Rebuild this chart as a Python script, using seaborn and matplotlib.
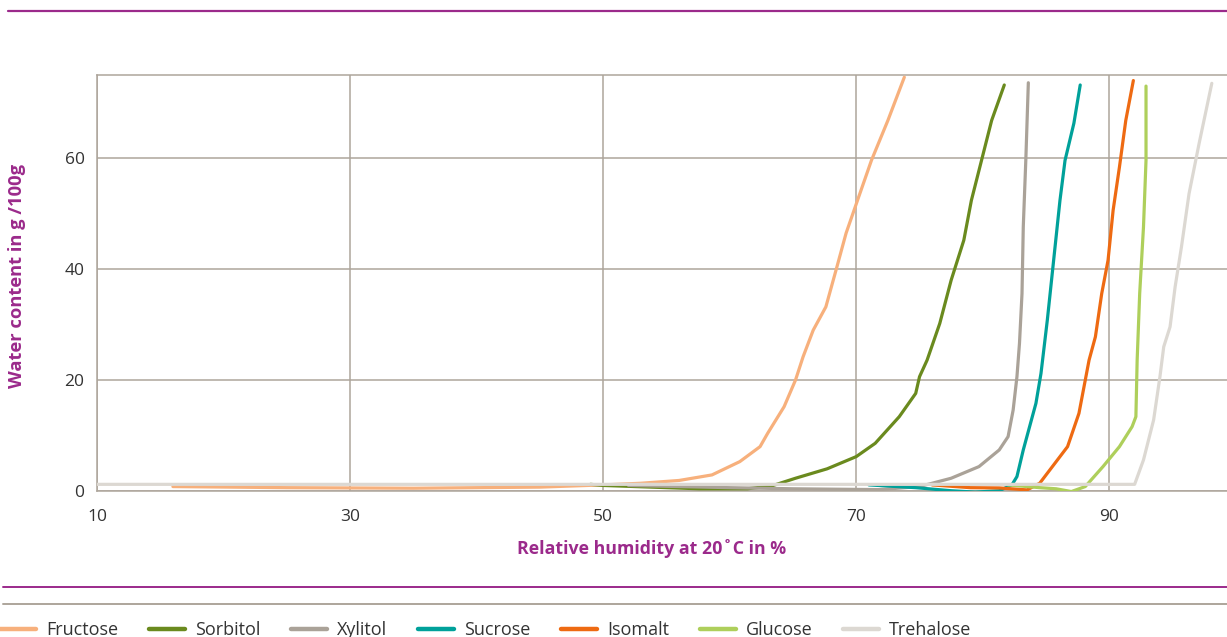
import pandas as pd
import matplotlib.pyplot as plt
import seaborn as sns
from matplotlib.lines import Line2D

# データ
fructose_x = [16, 25, 35, 45, 50, 53, 56, 58.6, 60.8, 62.4, 63.0, 64.3, 65.2, 65.8, 66.6, 67.6, 68.4, 69.2, 70.1, 71.2, 72.5, 73.8]
fructose_y = [0.8, 0.6, 0.5, 0.7, 1.1, 1.4, 1.9, 2.9, 5.3, 8.0, 10.4, 15.2, 20, 24.2, 29, 33.2, 39.8, 46.5, 52.4, 59.6, 66.8, 74.6]

sorbitol_x = [49, 50, 53.8, 57.6, 61.4, 63.3, 65.2, 67.7, 70, 71.5, 73.4, 74.7, 75, 75.6, 76.6, 77.5, 78.5, 79.1, 79.9, 80.7, 81.7]
sorbitol_y = [1.2, 1.0, 0.7, 0.4, 0.4, 0.9, 2.3, 4.0, 6.2, 8.6, 13.4, 17.6, 20.6, 23.6, 30.2, 38, 45.2, 52.4, 59.6, 66.8, 73.2]

xylitol_x = [52, 60, 65, 71.8, 75, 77.5, 79.7, 81.3, 82, 82.4, 82.7, 82.9, 83.1, 83.2, 83.4, 83.6]
xylitol_y = [1.0, 0.6, 0.4, 0.25, 0.8, 2.3, 4.4, 7.4, 9.8, 14.6, 20.6, 26.6, 35.6, 47.6, 59.6, 73.6]

sucrose_x = [71, 74.7, 77.5, 79.4, 81.3, 82.3, 82.7, 83.2, 83.7, 84.2, 84.6, 85.1, 85.6, 86.1, 86.5, 87.2, 87.7]
sucrose_y = [1.1, 0.6, 0.05, -0.2, 0.05, 1.1, 2.6, 7.4, 11.6, 15.8, 21.2, 30.8, 41.6, 52.4, 59.6, 66.3, 73.2]

isomalt_x = [76, 79, 81.3, 83.5, 84.5, 85.4, 86.7, 87.6, 88.1, 88.4, 88.9, 89.4, 89.9, 90.3, 90.8, 91.3, 91.9]
isomalt_y = [1.1, 0.6, 0.55, 0.2, 1.4, 4.1, 8.0, 14, 20, 23.6, 27.8, 35.6, 41.6, 50.6, 58.4, 66.8, 74]

glucose_x = [82, 84.5, 85.8, 87, 88.1, 89.5, 90.8, 91.8, 92.1, 92.2, 92.4, 92.7, 92.9, 92.9]
glucose_y = [1.1, 0.6, 0.4, -0.1, 0.8, 4.4, 8.0, 11.6, 13.4, 23.6, 35.6, 47.6, 59.6, 73]

trehalose_x = [10, 50, 92, 92.7, 93.5, 94, 94.3, 94.8, 95.2, 95.7, 96.3, 97.1, 98.1]
trehalose_y = [1.2, 1.2, 1.2, 5.6, 12.8, 20.6, 26, 29.6, 36.8, 44, 53.6, 62.7, 73.5]

names = ['Fructose', 'Sorbitol', 'Xylitol', 'Sucrose', 'Isomalt', 'Glucose', 'Trehalose']
colors = ['#F7B07C', '#6A8A1E', '#AAA298', '#00A19A', '#EE6A12', '#AECF5B', '#DCD8D2']
series = [(fructose_x, fructose_y), (sorbitol_x, sorbitol_y), (xylitol_x, xylitol_y),
          (sucrose_x, sucrose_y), (isomalt_x, isomalt_y), (glucose_x, glucose_y),
          (trehalose_x, trehalose_y)]

x_ticks = [10, 30, 50, 70, 90]
y_ticks = [0, 20, 40, 60]

purple = '#9B2A8B'
grid_col = '#ADA59B'

rows = []
for name, (xs, ys) in zip(names, series):
    for x, y in zip(xs, ys):
        rows.append({'sugar': name, 'rh': x, 'water': y})
df = pd.DataFrame(rows)

sns.set_theme(style='white')
plt.rcParams['font.family'] = ['Open Sans', 'DejaVu Sans']

fig = plt.figure(figsize=(12.27, 6.37), dpi=100)
ax = fig.add_axes([97 / 1227, 1 - 491 / 637, 1 - 97 / 1227, (491 - 75) / 637])

sns.lineplot(data=df, x='rh', y='water', hue='sugar', hue_order=names,
             palette=dict(zip(names, colors)), sort=False, estimator=None,
             units='sugar', linewidth=2.3, ax=ax, legend=False, zorder=3)

ax.set_xlim(10, 99.3)
ax.set_ylim(0, 75)
ax.set_xticks(x_ticks)
ax.set_yticks(y_ticks)
ax.tick_params(axis='x', length=0, pad=13, labelsize=12.5, colors='#333333')
ax.tick_params(axis='y', length=0, pad=9, labelsize=12.5, colors='#333333')
ax.grid(True, color=grid_col, linewidth=1.1)
for s in ['left', 'bottom', 'top']:
    ax.spines[s].set_color(grid_col)
    ax.spines[s].set_linewidth(1.1)
ax.spines['right'].set_visible(False)
ax.set_xlabel('')
ax.set_ylabel('')

fig.text(652 / 1227, 1 - 549 / 637, 'Relative humidity at 20˚C in %', color=purple,
         fontsize=12.8, fontweight='bold', ha='center', va='center')
fig.text(17 / 1227, 1 - 276 / 637, 'Water content in g /100g', color=purple,
         fontsize=13.2, fontweight='bold', ha='center', va='center', rotation=90)

# 飾り線
fig.add_artist(Line2D([8 / 1227, 1], [1 - 11 / 637] * 2, color=purple, linewidth=1.6))
fig.add_artist(Line2D([3 / 1227, 1], [1 - 587 / 637] * 2, color=purple, linewidth=1.4))
fig.add_artist(Line2D([3 / 1227, 1], [1 - 604 / 637] * 2, color=grid_col, linewidth=1.4))

handles = [Line2D([0], [0], color=c, linewidth=3.2) for c in colors]
fig.legend(handles, names, loc='center left', bbox_to_anchor=(0, 1 - 630 / 637), ncol=7,
           frameon=False, fontsize=13, handlelength=2.0, handletextpad=0.55,
           columnspacing=1.7, borderaxespad=0, borderpad=0, labelcolor='#333333')

fig.savefig('out.png', dpi=100)
